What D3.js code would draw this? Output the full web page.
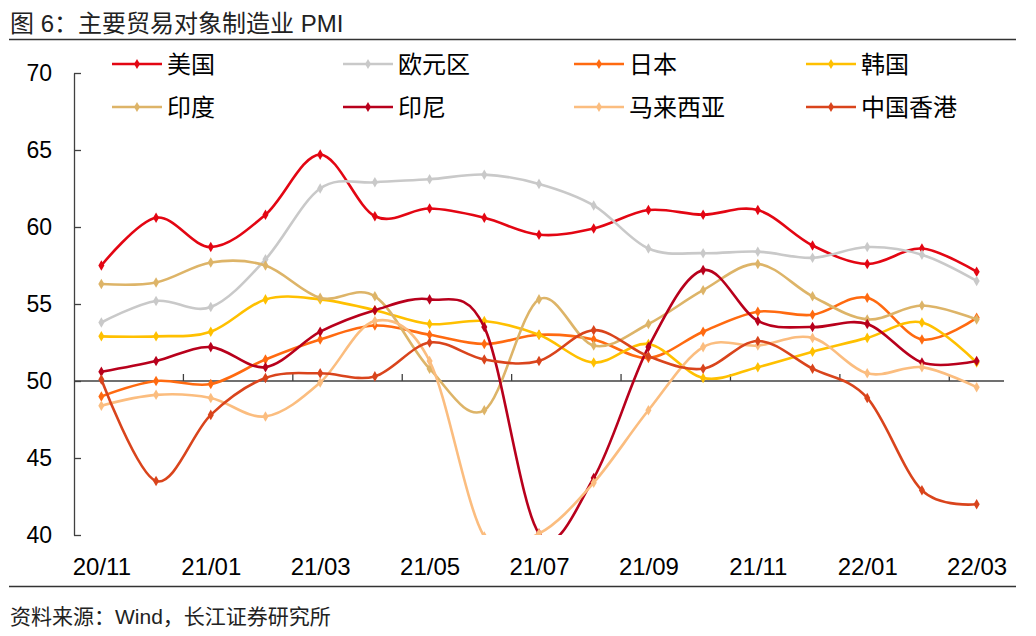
<!DOCTYPE html>
<html>
<head>
<meta charset="utf-8">
<script src="https://cdn.jsdelivr.net/npm/d3@7"></script>
<style>
	body { margin: 0; background: #fff; }
	svg text { font-family: "Liberation Sans", "Noto Sans CJK SC", sans-serif; }
	.cjk { font-family: "Noto Sans CJK SC", "Liberation Sans", sans-serif; }
</style>
</head>
<body>
<div id="forSvg"></div>
<script>
// months on the x axis
var months = ["20/11", "20/12", "21/01", "21/02", "21/03", "21/04", "21/05", "21/06", "21/07",
	"21/08", "21/09", "21/10", "21/11", "21/12", "22/01", "22/02", "22/03"];
var monthLabels = ["20/11", "21/01", "21/03", "21/05", "21/07", "21/09", "21/11", "22/01", "22/03"];
var yTicks = [40, 45, 50, 55, 60, 65, 70];

var names = ["美国", "欧元区", "日本", "韩国", "印度", "印尼", "马来西亚", "中国香港"];
var colors = ["#e30613", "#c9c9c9", "#ff6a10", "#ffc000", "#ddb468", "#b8001c", "#fbbd7f", "#d9441c"];

var us = [57.5, 60.6, 58.7, 60.8, 64.7, 60.7, 61.2, 60.6, 59.5, 59.9, 61.1, 60.8, 61.1, 58.8, 57.6, 58.6, 57.1];
var euro = [53.8, 55.2, 54.8, 57.9, 62.5, 62.9, 63.1, 63.4, 62.8, 61.4, 58.6, 58.3, 58.4, 58.0, 58.7, 58.2, 56.5];
var japan = [49.0, 50.0, 49.8, 51.4, 52.7, 53.6, 53.0, 52.4, 53.0, 52.7, 51.5, 53.2, 54.5, 54.3, 55.4, 52.7, 54.1];
var korea = [52.9, 52.9, 53.2, 55.3, 55.3, 54.6, 53.7, 53.9, 53.0, 51.2, 52.4, 50.2, 50.9, 51.9, 52.8, 53.8, 51.2];
var india = [56.3, 56.4, 57.7, 57.5, 55.4, 55.5, 50.8, 48.1, 55.3, 52.3, 53.7, 55.9, 57.6, 55.5, 54.0, 54.9, 54.0];
var indonesia = [50.6, 51.3, 52.2, 50.9, 53.2, 54.6, 55.3, 53.5, 40.1, 43.7, 52.2, 57.2, 53.9, 53.5, 53.7, 51.2, 51.3];
var malaysia = [48.4, 49.1, 48.9, 47.7, 49.9, 53.9, 51.3, 39.9, 40.1, 43.4, 48.1, 52.2, 52.3, 52.8, 50.5, 50.9, 49.6];
var hongkong = [50.1, 43.5, 47.8, 50.2, 50.5, 50.3, 52.5, 51.4, 51.3, 53.3, 51.6, 50.8, 52.6, 50.8, 48.9, 42.9, 42.0];

var series = [us, euro, japan, korea, india, indonesia, malaysia, hongkong];

var width = 1036, height = 636;
var plotLeft = 74, plotRight = 1004, plotTop = 73, plotBottom = 535;

var chart = d3.select("#forSvg").append("svg")
	.attr("width", width)
	.attr("height", height);

var x = d3.scalePoint().domain(months).range([plotLeft, plotRight]).padding(0.5);
var y = d3.scaleLinear().domain([40, 70]).range([plotBottom, plotTop]);
var step = x.step();

// title and source
chart.append("text")
	.attr("x", 10).attr("y", 32)
	.style("font-size", "24px").style("fill", "#222")
	.text("图 6：主要贸易对象制造业 PMI");
chart.append("line")
	.attr("x1", 9).attr("x2", 1016).attr("y1", 39.5).attr("y2", 39.5)
	.style("stroke", "#333").style("stroke-width", 1.4);
chart.append("line")
	.attr("x1", 9).attr("x2", 1016).attr("y1", 586.5).attr("y2", 586.5)
	.style("stroke", "#333").style("stroke-width", 1.4);
chart.append("text")
	.attr("x", 10).attr("y", 624)
	.style("font-size", "21px").style("fill", "#222")
	.text("资料来源：Wind，长江证券研究所");

// y axis, ticks point into the plot
var yAxis = chart.append("g")
	.attr("transform", "translate(" + plotLeft + ",0)")
	.call(d3.axisLeft(y).tickValues(yTicks).tickSize(-7).tickSizeOuter(0).tickPadding(22));
yAxis.selectAll("path, line").style("stroke", "#404040").style("stroke-width", 1.3);
yAxis.selectAll("text").style("font-size", "23px").style("fill", "#000")
	.style("font-family", "Liberation Sans");

// x axis sits on 50
var xAxis = chart.append("g")
	.attr("transform", "translate(0," + y(50) + ")")
	.call(d3.axisBottom(x).tickValues(monthLabels).tickSize(0).tickPadding(177));
xAxis.select(".domain").remove();
xAxis.selectAll("text").style("font-size", "24px").style("fill", "#000")
	.style("font-family", "Liberation Sans");

chart.append("line")
	.attr("x1", plotLeft).attr("x2", plotRight)
	.attr("y1", y(50)).attr("y2", y(50))
	.style("stroke", "#404040").style("stroke-width", 1.3);

chart.selectAll(".xtick")
	.data(monthLabels.slice(1))
	.enter().append("line")
	.attr("class", "xtick")
	.attr("x1", function(d) { return x(d) - step / 2; })
	.attr("x2", function(d) { return x(d) - step / 2; })
	.attr("y1", y(50) - 7)
	.attr("y2", y(50))
	.style("stroke", "#404040").style("stroke-width", 1.3);

// plot area clip
chart.append("clipPath").attr("id", "plotClip")
	.append("rect")
	.attr("x", plotLeft).attr("y", plotTop - 2)
	.attr("width", plotRight - plotLeft).attr("height", plotBottom - plotTop + 2);

var line = d3.line()
	.x(function(d, i) { return x(months[i]); })
	.y(function(d) { return y(d); })
	.curve(d3.curveCardinal.tension(0));

var diamond = d3.symbol().type(d3.symbolDiamond).size(32);

var plot = chart.append("g").attr("clip-path", "url(#plotClip)");

series.forEach(function(s, k) {
	var g = plot.append("g");
	g.append("path")
		.attr("d", line(s))
		.style("fill", "none")
		.style("stroke", colors[k])
		.style("stroke-width", 2.6);
	g.selectAll("path.pt")
		.data(s)
		.enter().append("path")
		.attr("class", "pt")
		.attr("d", diamond)
		.attr("transform", function(d, i) {
			return "translate(" + x(months[i]) + "," + y(d) + ")";
		})
		.style("fill", colors[k]);
});

// legend, two rows of four
var legendX = [112, 343, 574, 806];
var legendY = [64, 107];

var legend = chart.selectAll(".legend")
	.data(names)
	.enter().append("g")
	.attr("class", "legend")
	.attr("transform", function(d, i) {
		return "translate(" + legendX[i % 4] + "," + legendY[Math.floor(i / 4)] + ")";
	});

legend.append("line")
	.attr("x1", 0).attr("x2", 50)
	.style("stroke", function(d, i) { return colors[i]; })
	.style("stroke-width", 2.6);
legend.append("path")
	.attr("d", d3.symbol().type(d3.symbolDiamond).size(30))
	.attr("transform", "translate(25,0)")
	.style("fill", function(d, i) { return colors[i]; });
legend.append("text")
	.attr("class", "cjk")
	.attr("x", 55)
	.attr("dy", "0.36em")
	.style("font-size", "24px")
	.style("fill", "#000")
	.text(function(d) { return d; });
</script>
</body>
</html>
